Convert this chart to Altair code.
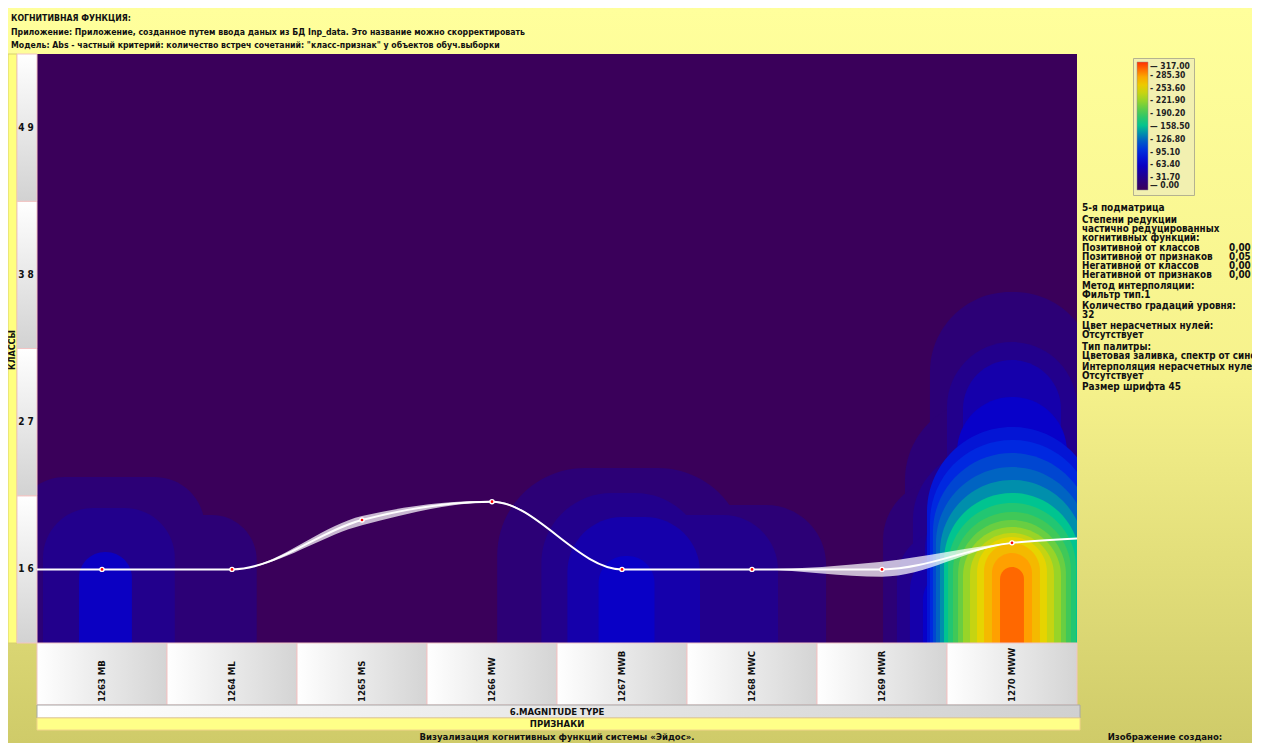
import altair as alt
import pandas as pd

# ---------------- data ----------------
features = ["1263 MB", "1264 ML", "1265 MS", "1266 MW", "1267 MWB", "1268 MWC", "1269 MWR", "1270 MWW"]
feature_pos = [1, 2, 3, 4, 5, 6, 7, 8]
classes = ["1 6", "2 7", "3 8", "4 9"]
class_pos = [1, 2, 3, 4]

# cognitive-function curve (position on the class axis for every feature)
line_x = [0.5, 1, 2, 3, 4, 5, 6, 7, 8, 8.5]
line_y = [1.0, 1.0, 1.0, 1.335, 1.46, 1.0, 1.0, 1.0, 1.18, 1.21]

# grey uncertainty band around the curve
unc_seg = ["a", "a", "a", "a", "a", "a", "b", "b", "b", "b", "b"]
unc_x = [1, 2, 3, 4, 5, 6, 5, 6, 7, 8, 8.5]
unc_lo = [1.0, 1.0, 1.300, 1.455, 1.0, 1.0, 1.0, 1.0, 0.950, 1.18, 1.21]
unc_hi = [1.0, 1.0, 1.362, 1.466, 1.0, 1.0, 1.0, 1.0, 1.052, 1.18, 1.21]

# contour levels of the smoothed Abs matrix (feature units / class units / value)
band_x1 = [0.5,
           0.33, 0.985, 0.546, 0.823,
           4.04, 4.83, 4.38, 4.83, 4.58, 4.82,
           7.369, 7.177, 7.008, 7.500, 7.238, 7.115, 7.623, 7.331, 7.215, 7.577, 7.408, 7.315,
           7.346, 7.369, 7.392, 7.415, 7.446, 7.477, 7.508, 7.546, 7.585, 7.623, 7.677, 7.731, 7.785, 7.846, 7.908]
band_x2 = [8.5,
           1.79, 2.19, 1.56, 1.23,
           5.95, 6.57, 5.64, 6.20, 5.60, 5.25,
           8.631, 8.823, 8.992, 8.500, 8.762, 8.885, 8.377, 8.669, 8.785, 8.423, 8.592, 8.685,
           8.654, 8.631, 8.608, 8.585, 8.554, 8.523, 8.492, 8.454, 8.415, 8.377, 8.323, 8.269, 8.215, 8.154, 8.092]
band_top = [4.5,
            1.627, 1.369, 1.417, 1.118,
            1.688, 1.437, 1.519, 1.369, 1.356, 1.091,
            2.884, 2.150, 1.607, 2.544, 1.811, 1.267, 2.422, 1.607, 1.132, 2.171, 1.471, 0.996,
            1.967, 1.879, 1.790, 1.695, 1.607, 1.519, 1.451, 1.390, 1.335, 1.288, 1.247, 1.220, 1.179, 1.111, 1.016]
band_val = [0,
            18, 18, 32, 60,
            18, 18, 32, 32, 48, 62,
            18, 18, 18, 32, 32, 32, 48, 48, 48, 64, 64, 64,
            80, 95, 110, 125, 140, 158, 175, 190, 205, 222, 240, 253, 270, 285, 300]
band_rad = [0,
            50, 45, 50, 26,
            90, 60, 70, 55, 55, 27,
            80, 80, 60, 65, 70, 50, 50, 70, 40, 55, 60, 30,
            85, 82, 79, 76, 72, 68, 64, 59, 54, 49, 42, 35, 28, 20, 12]

legend_values = [0, 31.7, 63.4, 95.1, 126.8, 158.5, 190.2, 221.9, 253.6, 285.3, 317.0]
pal_domain = [0, 18, 32, 63, 95, 127, 158, 190, 222, 254, 285, 300, 317]
pal_range = ["#3a005a", "#2c0076", "#22008c", "#0800c8", "#0028e0", "#0068c0", "#00c490",
             "#40c858", "#98d428", "#e8d400", "#ffa000", "#ff6800", "#ff3000"]

header = ["КОГНИТИВНАЯ ФУНКЦИЯ:",
          "Приложение: Приложение, созданное путем ввода даных из БД Inp_data. Это название можно скорректировать",
          "Модель: Abs - частный критерий: количество встреч сочетаний: \"класс-признак\" у объектов обуч.выборки"]

# ---------------- tables ----------------
bands = pd.DataFrame({"x1": band_x1, "x2": band_x2, "top": band_top, "bot": 0.5,
                      "v": band_val, "r": band_rad}).sort_values("v", kind="stable")
line_df = pd.DataFrame({"x": line_x, "y": line_y})
pts_df = pd.DataFrame({"x": line_x[1:9], "y": line_y[1:9]})
unc_df = pd.DataFrame({"seg": unc_seg, "x": unc_x, "lo": unc_lo, "hi": unc_hi})
cls_df = pd.DataFrame({"pos": class_pos, "label": classes,
                       "lo": [p - 0.5 for p in class_pos], "hi": [p + 0.5 for p in class_pos]})
feat_df = pd.DataFrame({"pos": feature_pos, "label": features,
                        "lo": [p - 0.5 for p in feature_pos], "hi": [p + 0.5 for p in feature_pos]})

W, H = 1040, 589
FONT = "DejaVu Sans Condensed, Liberation Sans, sans-serif"
xs = alt.Scale(domain=[0.5, 8.5], nice=False, zero=False)
ys = alt.Scale(domain=[0.5, 4.5], nice=False, zero=False)
one = alt.Data(values=[{}])


def grad(c1, c2, vertical=True, mid=None):
    stops = [alt.GradientStop(color=c1, offset=0)]
    if mid:
        stops.append(alt.GradientStop(color=mid, offset=0.5))
    stops.append(alt.GradientStop(color=c2, offset=1))
    return alt.Gradient(gradient="linear", x1=0, y1=0, x2=0 if vertical else 1, y2=1 if vertical else 0, stops=stops)


def note(text, x, y, size=9.5, align="left", angle=0, lh=None, baseline="middle", color="#111111"):
    kw = dict(text=text, font=FONT, fontSize=size, fontWeight="bold", align=align,
              baseline=baseline, color=color)
    if angle:
        kw["angle"] = angle
    if lh:
        kw["lineHeight"] = lh
    return alt.Chart(one).mark_text(**kw).encode(x=alt.value(x), y=alt.value(y))


canvas = alt.Chart(one).mark_rect(fill=grad("#ffff9c", "#cfcb69", mid="#f6f28c")).encode(
    x=alt.value(-29), x2=alt.value(1215), y=alt.value(-46), y2=alt.value(689))

heat = alt.Chart(bands).mark_rect(
    clip=True,
    cornerRadiusTopLeft=alt.ExprRef(expr="datum.r"),
    cornerRadiusTopRight=alt.ExprRef(expr="datum.r"),
).encode(
    x=alt.X("x1:Q", scale=xs, axis=None), x2="x2:Q",
    y=alt.Y("top:Q", scale=ys, axis=None), y2="bot:Q",
    color=alt.Color("v:Q", scale=alt.Scale(domain=pal_domain, range=pal_range, interpolate="rgb"),
                    legend=alt.Legend(
                        title=None, orient="none", legendX=1096, legendY=4, direction="vertical",
                        gradientLength=128, gradientThickness=11, values=legend_values,
                        labelExpr="(datum.value == 0 || datum.value == 158.5 || datum.value == 317 ? '— ' : ' -  ') + format(datum.value, '.2f')",
                        labelFont=FONT, labelFontSize=8.5, labelFontWeight="bold", labelColor="#222222",
                        labelBaseline="middle", labelOffset=2, labelOverlap=False, padding=4,
                        strokeColor="#b4b290", fillColor="#f2f0b0",
                        gradientStrokeColor="#909090", gradientStrokeWidth=0.5)),
)

# left class strip
left_strip = alt.Chart(one).mark_rect(fill="#ffff80", stroke="#d8d070").encode(
    x=alt.value(-29), x2=alt.value(-20), y=alt.value(0), y2=alt.value(H))
cls_cells = alt.Chart(cls_df).mark_rect(fill=grad("#ffffff", "#d2d2d2"), stroke="#f2c4c4", strokeWidth=1).encode(
    x=alt.value(-20), x2=alt.value(0), y=alt.Y("hi:Q", scale=ys, axis=None), y2="lo:Q")
cls_text = alt.Chart(cls_df).mark_text(font=FONT, fontSize=10, fontWeight="bold", color="#111111").encode(
    x=alt.value(-11), y=alt.Y("pos:Q", scale=ys, axis=None), text="label:N")

# bottom feature cells
feat_cells = alt.Chart(feat_df).mark_rect(fill=grad("#ffffff", "#d4d4d4", vertical=False), stroke="#f0c4c4",
                                          strokeWidth=1).encode(
    x=alt.X("lo:Q", scale=xs, axis=None), x2="hi:Q", y=alt.value(H), y2=alt.value(651))
feat_text = alt.Chart(feat_df).mark_text(font=FONT, fontSize=9.5, fontWeight="bold", angle=270, align="left",
                                         baseline="middle", color="#111111").encode(
    x=alt.X("pos:Q", scale=xs, axis=None), y=alt.value(648), text="label:N")
type_bar = alt.Chart(one).mark_rect(fill=grad("#ffffff", "#d0d0d0", vertical=False), stroke="#a8a8a8").encode(
    x=alt.value(0), x2=alt.value(1043), y=alt.value(651), y2=alt.value(664))
sign_bar = alt.Chart(one).mark_rect(fill="#ffff88", stroke="#f2d48a").encode(
    x=alt.value(0), x2=alt.value(1043), y=alt.value(664), y2=alt.value(676))

unc = alt.Chart(unc_df).mark_area(interpolate="monotone", color="#ffffff", opacity=0.72).encode(
    x=alt.X("x:Q", scale=xs, axis=None), y=alt.Y("hi:Q", scale=ys, axis=None), y2="lo:Q", detail="seg:N")
line = alt.Chart(line_df).mark_line(interpolate="monotone", color="#ffffff", strokeWidth=2).encode(
    x=alt.X("x:Q", scale=xs, axis=None), y=alt.Y("y:Q", scale=ys, axis=None))
pts_w = alt.Chart(pts_df).mark_point(filled=True, color="#ffffff", size=30, opacity=1).encode(
    x=alt.X("x:Q", scale=xs, axis=None), y=alt.Y("y:Q", scale=ys, axis=None))
pts_r = alt.Chart(pts_df).mark_point(filled=True, color="#ff0000", size=7, opacity=1).encode(
    x=alt.X("x:Q", scale=xs, axis=None), y=alt.Y("y:Q", scale=ys, axis=None))

texts = [
    note(header[0], -26, -36, size=8.7),
    note(header[1], -26, -22, size=8.7),
    note(header[2], -26, -9, size=8.7),
    note("КЛАССЫ", -25, 296, size=9, align="center", angle=270),
    note("6.MAGNITUDE TYPE", 520, 657.5, size=9.5, align="center"),
    note("ПРИЗНАКИ", 520, 670, size=9.5, align="center"),
    note("Визуализация когнитивных функций системы «Эйдос».", 520, 683, size=9.5, align="center"),
    note("Изображение создано:", 1128, 683, size=9.5, align="center"),
    note("5-я подматрица", 1045, 154, size=10),
    note(["Степени редукции", "частично редуцированных", "когнитивных функций:"], 1045, 161, size=9.8, lh=8.9,
         baseline="top"),
    note(["Позитивной от классов", "Позитивной от признаков", "Негативной от классов", "Негативной от признаков"],
         1045, 189, size=9.8, lh=8.9, baseline="top"),
    note(["0,00", "0,05", "0,00", "0,00"], 1192, 189, size=9.8, lh=8.9, baseline="top"),
    note(["Метод интерполяции:", "Фильтр тип.1"], 1045, 227, size=9.8, lh=8.8, baseline="top"),
    note(["Количество градаций уровня:", "32"], 1045, 246.5, size=9.8, lh=9.0, baseline="top"),
    note(["Цвет нерасчетных нулей:", "Отсутствует"], 1045, 266.5, size=9.8, lh=9.0, baseline="top"),
    note(["Тип палитры:", "Цветовая заливка, спектр от синего до красного"], 1045, 288, size=9.8, lh=8.8,
         baseline="top"),
    note(["Интерполяция нерасчетных нулей:", "Отсутствует"], 1045, 308, size=9.8, lh=8.8, baseline="top"),
    note("Размер шрифта 45", 1045, 333, size=10),
]

chart = alt.layer(
    canvas, heat, left_strip, cls_cells, cls_text, feat_cells, feat_text, type_bar, sign_bar,
    unc, line, pts_w, pts_r, *texts
).properties(
    width=W, height=H,
    padding={"left": 29, "top": 46, "right": 175, "bottom": 100},
    autosize=alt.AutoSizeParams(type="none"),
    background="#ffff9c",
).configure_view(stroke=None)

chart.save("out.html", embed_options={"renderer": "svg", "actions": False})
